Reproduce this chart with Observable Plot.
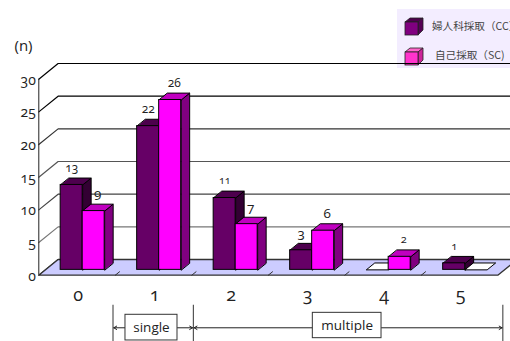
<!DOCTYPE html>
<html>
<head>
<meta charset="utf-8">
<script src="https://cdn.jsdelivr.net/npm/d3@7"></script>
<script src="https://cdn.jsdelivr.net/npm/@observablehq/plot@0.6"></script>
<style>
  html, body { margin: 0; padding: 0; background: #fff; width: 510px; height: 341px; overflow: hidden; }
  #wrap { position: relative; width: 510px; height: 341px; overflow: hidden; font-family: "Open Sans", sans-serif; }
  #legend { position: absolute; left: 397px; top: 9px; width: 113px; height: 59px; background: #f3edff; overflow: hidden; white-space: nowrap; }
  #legend .t { position: absolute; font: 10.6px "Noto Sans CJK JP", sans-serif; color: #444; line-height: 14px; }
  #legend svg { position: absolute; left: 7px; }
  #chart { position: absolute; left: 0; top: 0; }
  #chart svg { background: transparent; display: block; }
</style>
</head>
<body>
<div id="wrap">
  <div id="legend"></div>
  <div id="chart"></div>
</div>
<script>
// Number of samples per category, for the two collection methods
const categories = [0, 1, 2, 3, 4, 5];
const ccValues = [13, 22, 11, 3, 0, 1];
const scValues = [9, 26, 7, 6, 2, 0];
const labelSizes = {cc: [12, 12, 10.5, 13.5, 11, 11], sc: [13.5, 12, 13.5, 13.5, 11, 11]};
const yTicks = [0, 5, 10, 15, 20, 25, 30];
const gridColors = ["#333", "#777", "#444", "#555", "#333", "#000", "#000"];
const seriesNames = ["婦人科採取（CC）", "自己採取（SC)"];

// Oblique projection: depth runs from the front of the floor (0) to the back wall (1)
const DEPTH_X = 0.2523;
const DEPTH_Y = 2.4;
const project = (x, y, d) => ({x: x + d * DEPTH_X, y: y + d * DEPTH_Y});

// Bar footprint within a category cell
const BAR_LEFT = 0.2;
const BAR_WIDTH = 0.2876;
const D0 = 0.34;
const D1 = 0.78;

const faceColors = {
  cc: {front: "#660066", side: "#330033", top: "#4d004d"},
  sc: {front: "#ff00ff", side: "#800080", top: "#c000c0"}
};

const polygons = [];
const addPoly = (id, fill, pts) => pts.forEach((p) => polygons.push({id, fill, ...p}));
const fronts = [];
const labels = [];

categories.forEach((c, i) => {
  [["cc", ccValues[i], 0], ["sc", scValues[i], 1]].forEach(([key, v, slot]) => {
    const x1 = c + BAR_LEFT + slot * BAR_WIDTH;
    const x2 = x1 + BAR_WIDTH;
    const id = `${key}-${c}`;
    const top = [project(x1, v, D0), project(x2, v, D0), project(x2, v, D1), project(x1, v, D1)];
    if (v === 0) {
      addPoly(id + "-top", "#ffffff", top);
      return;
    }
    addPoly(id + "-side", faceColors[key].side, [project(x2, 0, D0), project(x2, v, D0), project(x2, v, D1), project(x2, 0, D1)]);
    addPoly(id + "-top", faceColors[key].top, top);
    const a = project(x1, 0, D0);
    const b = project(x2, v, D0);
    fronts.push({x1: a.x, x2: b.x, y1: a.y, y2: b.y, fill: faceColors[key].front});
    labels.push({
      x: project((x1 + x2) / 2, v, D0).x,
      y: project(x1, v, D1).y,
      text: String(v),
      size: labelSizes[key][i],
      slot
    });
  });
});

// Floor and the two walls' grid lines
const floor = [project(0, 0, 0), project(6, 0, 0), project(6, 0, 1), project(0, 0, 1)];
const gridRows = yTicks.flatMap((t, i) => [
  {t, color: gridColors[i], ...project(0, t, 0)},
  {t, color: gridColors[i], ...project(0, t, 1)},
  {t, color: gridColors[i], ...project(6.2, t, 1)}
]);
const floorTicks = d3.range(1, 6).flatMap((c) => [
  {c, ...project(c, 0, 0)},
  {c, ...project(c, 0, 0.22)}
]);

// Brackets under the axis: single = 1 collection, multiple = 2 or more
const BRACKET_Y = -8.05;
const BRACKET_TOP = -4.6;
const BRACKET_BOTTOM = -10.2;
const bounds = [0.97, 2.02, 6.066];
const arrows = [
  {x1: 1.133, x2: 0.98},
  {x1: 1.813, x2: 2.01},
  {x1: 3.582, x2: 2.03},
  {x1: 4.48, x2: 6.056}
];
const boxes = [
  {x1: 1.133, x2: 1.813, y1: -6.06, y2: -9.99, text: "single"},
  {x1: 3.582, x2: 4.48, y1: -5.76, y2: -9.64, text: "multiple"}
];

const chart = Plot.plot({
  width: 510,
  height: 341,
  margin: 0,
  x: {type: "linear", domain: [0, 6], range: [38.3, 497.3], axis: null},
  y: {type: "linear", domain: [0, 30], range: [274.7, 78.7], axis: null},
  color: {type: "identity"},
  style: {fontFamily: "'Open Sans', sans-serif", fontVariantNumeric: "oldstyle-nums", background: "transparent", color: "#222"},
  marks: [
    Plot.line(gridRows, {x: "x", y: "y", z: "t", stroke: "color", strokeWidth: 1.2}),
    Plot.line(floor, {x: "x", y: "y", fill: "#ccccff", stroke: "#333", strokeWidth: 1.3, curve: "linear-closed"}),
    Plot.line(floorTicks, {x: "x", y: "y", z: "c", stroke: "#333", strokeWidth: 1}),
    Plot.ruleX([0], {y1: 0, y2: 30, stroke: "#222", strokeWidth: 1}),
    Plot.text(yTicks, {x: 0, y: (d) => d, text: String, textAnchor: "end", dx: -3, dy: 1, fontSize: 14}),
    Plot.line(polygons, {x: "x", y: "y", z: "id", fill: "fill", stroke: "#000", strokeWidth: 1, curve: "linear-closed"}),
    Plot.rect(fronts, {x1: "x1", x2: "x2", y1: "y1", y2: "y2", fill: "fill", stroke: "#000", strokeWidth: 1}),
    Plot.text(labels, {filter: (d) => d.slot === 0, x: "x", y: "y", text: "text", fontSize: "size", dy: -10}),
    Plot.text(labels, {filter: (d) => d.slot === 1, x: "x", y: "y", text: "text", fontSize: "size", dx: 4, dy: -10}),
    Plot.text(categories, {x: (d) => d + 0.5, y: -3.1, text: String, fontSize: 18, dx: 1}),
    Plot.text(["(n)"], {x: -0.2, y: 35.1, text: (d) => d, fontSize: 15}),
    Plot.ruleX(bounds, {y1: BRACKET_TOP, y2: BRACKET_BOTTOM, stroke: "#333", strokeWidth: 1}),
    Plot.arrow(arrows, {x1: "x1", x2: "x2", y1: BRACKET_Y, y2: BRACKET_Y, stroke: "#222", strokeWidth: 1, headLength: 5}),
    Plot.rect(boxes, {x1: "x1", x2: "x2", y1: "y1", y2: "y2", fill: "#fff", stroke: "#333", strokeWidth: 1}),
    Plot.text(boxes, {x: (d) => (d.x1 + d.x2) / 2, y: (d) => (d.y1 + d.y2) / 2, text: "text", fontSize: 13.5})
  ]
});
document.getElementById("chart").appendChild(chart);

// Legend swatches are small cubes in each series' colours
const swatches = [
  {front: "#800080", top: "#4d004d", side: "#550055", y: 8},
  {front: "#ff33cc", top: "#ff66cc", side: "#cc2299", y: 38}
];
const legend = document.getElementById("legend");
swatches.forEach((s, i) => {
  const svg = d3.select(legend).append("svg")
    .attr("width", 21).attr("height", 19)
    .style("top", `${s.y}px`);
  const g = svg.append("g").attr("stroke", "#222").attr("stroke-width", 0.8);
  g.append("path").attr("d", "M1 5L6 1H19L14 5Z").attr("fill", s.top);
  g.append("path").attr("d", "M14 5L19 1V13L14 18Z").attr("fill", s.side);
  g.append("rect").attr("x", 1).attr("y", 5).attr("width", 13).attr("height", 13).attr("fill", s.front);
  d3.select(legend).append("div").attr("class", "t")
    .style("left", i === 0 ? "35px" : "38px")
    .style("top", i === 0 ? "10px" : "39px")
    .text(seriesNames[i]);
});
</script>
</body>
</html>
